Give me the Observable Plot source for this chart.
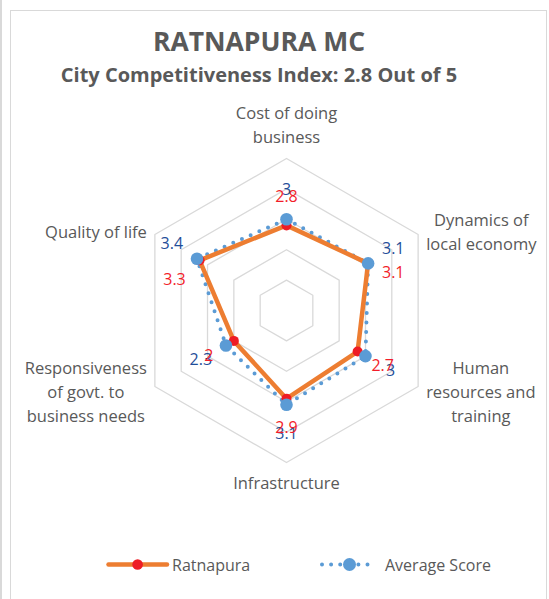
<!DOCTYPE html>
<html><head><meta charset="utf-8">
<script src="https://cdn.jsdelivr.net/npm/d3@7"></script>
<script src="https://cdn.jsdelivr.net/npm/@observablehq/plot@0.6"></script>
<style>
body{margin:0;background:#fff;font-family:"Open Sans",sans-serif;}
#page{position:relative;width:549px;height:599px;overflow:hidden;background:#fff;}
#edge{position:absolute;left:0;top:0;width:1.5px;height:599px;background:#d9d9d9;}
#frame{position:absolute;left:9.5px;top:9.5px;width:537px;height:620px;border:1.5px solid #d9d9d9;box-sizing:border-box;}
.ttl{position:absolute;left:0;width:518px;text-align:center;font-weight:700;color:#595959;line-height:1;white-space:nowrap;}
#title{top:27.5px;font-size:26.5px;}
#subtitle{top:65px;font-size:20px;}
#chart{position:absolute;left:0;top:95px;}
.leg{position:absolute;top:554.8px;line-height:20px;font-size:16px;color:#595959;white-space:nowrap;}
.legsym{position:absolute;top:557px;}
</style>
</head><body>
<div id="page">
  <div id="edge"></div>
  <div id="frame"></div>
  <div id="title" class="ttl">RATNAPURA MC</div>
  <div id="subtitle" class="ttl">City Competitiveness Index: 2.8 Out of 5</div>
  <div id="chart"></div>
  <svg class="legsym" style="left:106px" width="64" height="15">
    <line x1="2.5" y1="7.5" x2="61" y2="7.5" stroke="#ED7D31" stroke-width="4.5" stroke-linecap="round"/>
    <circle cx="31.6" cy="7.5" r="5.3" fill="#EE1C25"/>
  </svg>
  <div class="leg" style="left:172px">Ratnapura</div>
  <svg class="legsym" style="left:316px" width="62" height="15">
    <line x1="6" y1="7.5" x2="57" y2="7.5" stroke="#5B9BD5" stroke-width="4" stroke-linecap="round" stroke-dasharray="0 9.1"/>
    <circle cx="33.5" cy="7.5" r="6.5" fill="#5B9BD5"/>
  </svg>
  <div class="leg" style="left:385px">Average Score</div>
</div>
<script>
// ---- data ----
const categories = ["Cost of doing business", "Dynamics of local economy", "Human resources and training", "Infrastructure", "Responsiveness of govt. to business needs", "Quality of life"];
const categoryLabels = ["Cost of doing\nbusiness", "Dynamics of\nlocal economy", "Human\nresources and\ntraining", "Infrastructure", "Responsiveness\nof govt. to\nbusiness needs", "Quality of life"];
const ratnapura = [2.8, 3.1, 2.7, 2.9, 2, 3.3];
const average = [3, 3.1, 3, 3.1, 2.3, 3.4];
const ringLevels = [1, 2, 3, 4, 5];

// ---- layout / style ----
const s = 30.4;            // pixels per score unit
const W = 549, H = 420, cx = 286, cy = 215;
const labelFont = 16.5, labelLH = 24;
const redLabelShift = {"Dynamics of local economy": 24, "Quality of life": 34}; // px, to avoid overlaps
const angle = i => Math.PI / 2 - i * Math.PI / 3;
const pt = (i, r) => [r * Math.cos(angle(i)), r * Math.sin(angle(i))];
const rMax = d3.max(ringLevels);

const rings = ringLevels.flatMap(level => categories.map((c, i) => ({level, x: pt(i, level)[0], y: pt(i, level)[1]})));

function seriesRows(name, values) {
  return categories.map((c, i) => ({series: name, category: c, i, value: values[i], x: pt(i, values[i])[0], y: pt(i, values[i])[1]}));
}
const rRows = seriesRows("Ratnapura", ratnapura);
const aRows = seriesRows("Average Score", average);

const off = 29 / s;
function labelRows(rows, shifts) {
  return rows.map(d => {
    const [x, y] = pt(d.i, d.value + off);
    return {...d, lx: x, ly: y - ((shifts && shifts[d.category]) || 0) / s};
  });
}
const rLabels = labelRows(rRows, redLabelShift);
const aLabels = labelRows(aRows, null);

// category labels
const ctx = document.createElement("canvas").getContext("2d");
ctx.font = `${labelFont}px "Open Sans"`;
const catRows = categories.map((c, i) => {
  const text = categoryLabels[i];
  const lines = text.split("\n");
  const w = d3.max(lines, l => ctx.measureText(l).width);
  const [vx, vy] = pt(i, rMax);
  let x = vx, y = vy, anchor = "middle";
  if (Math.abs(vx) < 1e-6) {
    anchor = vy > 0 ? "bottom" : "top";
    y = vy + (vy > 0 ? 15.5 : -9.5) / s;
  } else {
    x = vx + Math.sign(vx) * (8 + w / 2) / s;
    y = vy + Math.sign(vy) * 3.7 / s;
  }
  return {text, x, y, anchor};
});

const font = `'Open Sans', sans-serif`;
const chart = Plot.plot({
  width: W, height: H, margin: 0,
  x: {domain: [-cx / s, (W - cx) / s], axis: null},
  y: {domain: [-(H - cy) / s, cy / s], axis: null},
  style: {background: "transparent", fontFamily: font, overflow: "visible"},
  marks: [
    Plot.line(rings, {x: "x", y: "y", z: "level", curve: "linear-closed", stroke: "#D9D9D9", strokeWidth: 1.3}),
    Plot.line(aRows, {x: "x", y: "y", curve: "linear-closed", stroke: "#5B9BD5", strokeWidth: 4, strokeDasharray: "0 9.5", strokeLinecap: "round"}),
    Plot.line(rRows, {x: "x", y: "y", curve: "linear-closed", stroke: "#ED7D31", strokeWidth: 4.5, strokeLinejoin: "round"}),
    Plot.dot(rRows, {x: "x", y: "y", r: 5, fill: "#EE1C25"}),
    Plot.dot(aRows, {x: "x", y: "y", r: 6.3, fill: "#5B9BD5"}),
    Plot.text(aLabels, {x: "lx", y: "ly", text: d => String(d.value), fill: "#1F4E99", fontSize: 16, textAnchor: "middle", lineAnchor: "middle"}),
    Plot.text(rLabels, {x: "lx", y: "ly", text: d => String(d.value), fill: "#F21D2A", fontSize: 16, textAnchor: "middle", lineAnchor: "middle"}),
    Plot.text(catRows.filter(d => d.anchor === "bottom"), {x: "x", y: "y", text: "text", fill: "#595959", fontSize: labelFont, lineHeight: labelLH / labelFont, textAnchor: "middle", lineAnchor: "bottom"}),
    Plot.text(catRows.filter(d => d.anchor === "top"), {x: "x", y: "y", text: "text", fill: "#595959", fontSize: labelFont, lineHeight: labelLH / labelFont, textAnchor: "middle", lineAnchor: "top"}),
    Plot.text(catRows.filter(d => d.anchor === "middle"), {x: "x", y: "y", text: "text", fill: "#595959", fontSize: labelFont, lineHeight: labelLH / labelFont, textAnchor: "middle", lineAnchor: "middle"})
  ]
});
document.getElementById("chart").appendChild(chart);
</script>
</body></html>
